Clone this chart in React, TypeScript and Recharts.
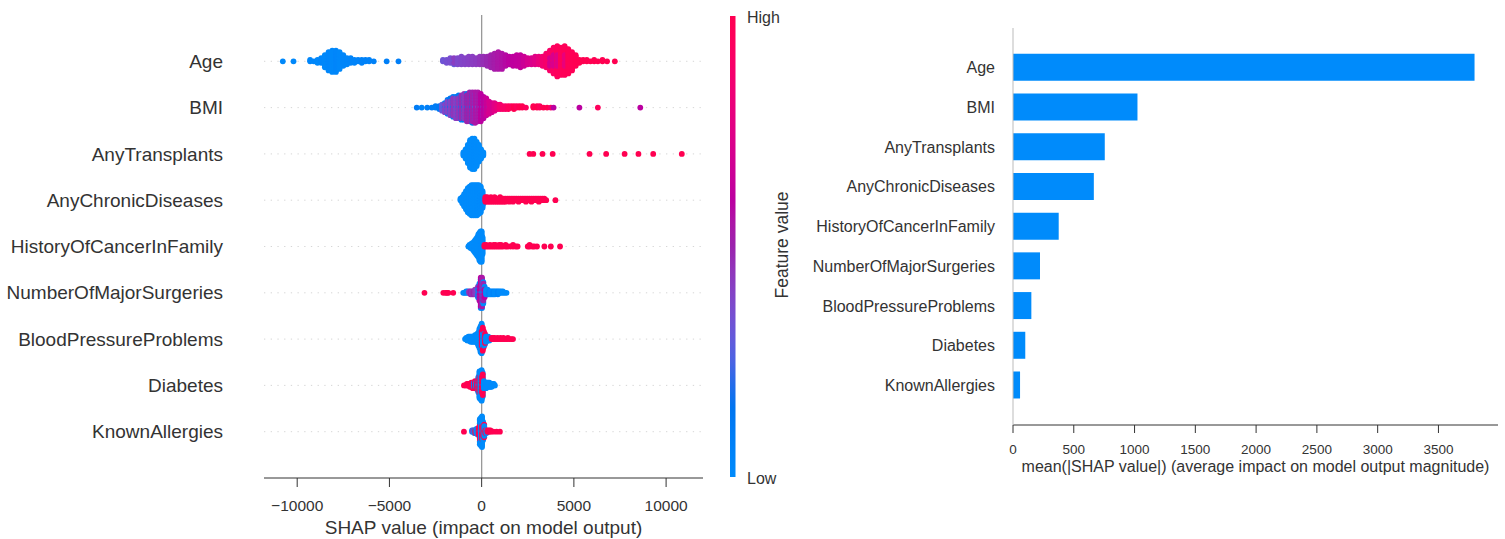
import React from 'react';
import { ScatterChart, Scatter, XAxis, YAxis, ReferenceLine, BarChart, Bar } from 'recharts';

// feature order, top to bottom
const features = [
  'Age',
  'BMI',
  'AnyTransplants',
  'AnyChronicDiseases',
  'HistoryOfCancerInFamily',
  'NumberOfMajorSurgeries',
  'BloodPressureProblems',
  'Diabetes',
  'KnownAllergies',
];

// mean(|SHAP value|) per feature, same order
const meanAbsShap = [3797, 1024, 755, 665, 376, 222, 151, 101, 58];

const shapTicks = [-10000, -5000, 0, 5000, 10000];
const meanTicks = [0, 500, 1000, 1500, 2000, 2500, 3000, 3500];

// beeswarm readings: [shap value, number of dots at that value, feature value 0 = low .. 1 = high]
type Entry = [number, number, number];

const ageShap: Entry[] = [
  [-10780, 1, 0.02], [-10200, 1, 0.02], [-9300, 2, 0.03], [-9100, 1, 0.03], [-8900, 3, 0.02], [-8700, 4, 0.03],
  [-8500, 9, 0.02], [-8300, 13, 0.03], [-8100, 15, 0.02], [-7900, 15, 0.03], [-7700, 12, 0.02], [-7500, 8, 0.04],
  [-7300, 5, 0.04], [-7100, 4, 0.05], [-6900, 3, 0.05], [-6700, 2, 0.05], [-6500, 3, 0.06], [-6300, 2, 0.06],
  [-6100, 2, 0.06], [-5850, 1, 0.07], [-5150, 1, 0.08], [-4510, 1, 0.08],
  [-2100, 2, 0.33], [-1900, 3, 0.35], [-1700, 4, 0.36], [-1500, 3, 0.3], [-1500, 2, 0.42], [-1300, 5, 0.38],
  [-1100, 6, 0.39], [-900, 5, 0.4], [-700, 6, 0.41], [-500, 6, 0.42], [-300, 5, 0.43], [-100, 6, 0.45],
  [100, 6, 0.47], [300, 7, 0.49], [500, 9, 0.51], [700, 11, 0.53], [900, 12, 0.55], [1100, 11, 0.56],
  [1300, 8, 0.58], [1500, 6, 0.6], [1700, 7, 0.61], [1900, 8, 0.62], [2100, 9, 0.63], [2300, 7, 0.66],
  [2500, 5, 0.7], [2700, 5, 0.72], [2900, 6, 0.75], [3100, 6, 0.8], [3300, 7, 0.85], [3500, 10, 0.88],
  [3700, 11, 0.9], [3700, 3, 0.7], [3900, 14, 0.93], [3900, 4, 0.72], [4100, 17, 0.95], [4100, 4, 0.75],
  [4300, 19, 0.96], [4500, 16, 0.97], [4500, 4, 0.8], [4700, 17, 0.98], [4900, 13, 0.98], [5100, 8, 0.99],
  [5300, 3, 1], [5500, 2, 1], [5700, 2, 1], [5900, 1, 1], [6100, 2, 1], [6300, 1, 1], [6550, 2, 1],
  [6800, 1, 1], [7220, 1, 1],
];

const bmiShap: Entry[] = [
  [-3520, 1, 0.1], [-3250, 1, 0.05], [-2950, 1, 0.08], [-2700, 1, 0.1], [-2500, 2, 0.1], [-2300, 3, 0.12],
  [-2150, 5, 0.3], [-2000, 4, 0.1], [-2000, 3, 0.4], [-1850, 6, 0.1], [-1850, 4, 0.4], [-1700, 7, 0.15],
  [-1700, 5, 0.4], [-1550, 8, 0.1], [-1550, 6, 0.45], [-1400, 8, 0.1], [-1400, 7, 0.42], [-1250, 9, 0.12],
  [-1250, 7, 0.45], [-1100, 9, 0.1], [-1100, 8, 0.48], [-950, 9, 0.15], [-950, 9, 0.45], [-800, 10, 0.1],
  [-800, 9, 0.5], [-650, 10, 0.2], [-650, 10, 0.5], [-500, 11, 0.15], [-500, 10, 0.52], [-350, 10, 0.25],
  [-350, 11, 0.55], [-200, 10, 0.3], [-200, 10, 0.55], [-50, 9, 0.35], [-50, 10, 0.6], [100, 7, 0.4],
  [100, 8, 0.6], [250, 6, 0.5], [250, 6, 0.65], [400, 4, 0.55], [400, 5, 0.7], [550, 7, 0.7], [700, 6, 0.75],
  [850, 4, 0.8], [1000, 4, 0.85], [1150, 3, 0.9], [1300, 3, 0.9], [1450, 3, 0.95], [1600, 2, 0.95],
  [1750, 3, 1], [1900, 2, 0.95], [2050, 2, 1], [2200, 2, 1], [2400, 1, 0.95], [2800, 2, 1], [3000, 2, 1],
  [3150, 2, 0.95], [3350, 1, 1], [3550, 1, 1], [3750, 1, 0.9], [3900, 1, 0.6], [5300, 1, 0.6],
  [6300, 1, 0.95], [8600, 1, 0.6],
];

const transplantShap: Entry[] = [
  [-990, 3, 0], [-870, 7, 0], [-750, 13, 0], [-630, 19, 0], [-510, 21, 0], [-390, 21, 0], [-270, 17, 0],
  [-150, 12, 0], [-30, 7, 0], [90, 3, 0],
  [2600, 1, 1], [2800, 1, 1], [3300, 1, 1], [3850, 1, 1], [5850, 1, 1], [6750, 1, 1], [7750, 1, 1],
  [8500, 1, 1], [9300, 1, 1], [10850, 1, 1],
];

const chronicShap: Entry[] = [
  [-1150, 2, 0], [-1050, 5, 0], [-950, 9, 0], [-850, 13, 0], [-750, 17, 0], [-650, 19, 0], [-550, 21, 0],
  [-450, 21, 0], [-350, 21, 0], [-250, 21, 0], [-150, 20, 0], [-50, 18, 0], [50, 12, 0], [100, 5, 0],
  [200, 4, 1], [300, 4, 1], [400, 3, 1], [500, 4, 1], [600, 3, 1], [700, 4, 1], [800, 3, 1], [900, 3, 1],
  [1000, 4, 1], [1100, 3, 1], [1200, 3, 1], [1300, 3, 1], [1400, 2, 1], [1500, 3, 1], [1600, 2, 1],
  [1700, 3, 1], [1800, 2, 1], [1900, 2, 1], [2000, 3, 1], [2100, 2, 1], [2200, 2, 1], [2300, 2, 1],
  [2400, 3, 1], [2500, 2, 1], [2600, 2, 1], [2700, 3, 1], [2800, 2, 1], [2900, 2, 1], [3000, 2, 1],
  [3100, 3, 1], [3200, 2, 1], [3300, 2, 1], [3400, 2, 1], [3500, 1, 1], [4000, 1, 1],
];

const cancerShap: Entry[] = [
  [-720, 1, 0], [-660, 2, 0], [-600, 3, 0], [-540, 4, 0], [-480, 5, 0], [-420, 7, 0], [-360, 9, 0],
  [-300, 11, 0], [-240, 13, 0], [-180, 16, 0], [-120, 19, 0], [-60, 21, 0], [0, 21, 0], [50, 12, 0],
  [150, 2, 1], [250, 2, 1], [350, 1, 1], [450, 2, 1], [550, 1, 1], [650, 2, 1], [750, 2, 1], [850, 1, 1],
  [950, 2, 1], [1050, 2, 1], [1150, 1, 1], [1300, 2, 1], [1400, 1, 1], [1550, 1, 1], [1700, 2, 1],
  [1850, 1, 1], [1950, 1, 1], [2500, 1, 1], [2600, 2, 1], [2750, 1, 1], [2850, 1, 1], [3000, 1, 1],
  [3400, 1, 1], [3750, 1, 1], [4250, 1, 1],
];

const surgeryShap: Entry[] = [
  [-3100, 1, 1], [-2080, 1, 1], [-1950, 1, 1], [-1880, 1, 1], [-1800, 1, 1], [-1540, 1, 1],
  [-1000, 1, 0.05], [-920, 1, 0], [-840, 2, 0.05], [-760, 2, 0],
  [-680, 2, 0.45], [-600, 3, 0.5], [-520, 3, 0.45], [-440, 3, 0.5], [-360, 4, 0.45], [-280, 4, 0.4],
  [-200, 5, 0.45], [-200, 3, 0.05], [-120, 7, 0], [-120, 5, 0.6], [-50, 11, 0], [-50, 10, 0.6],
  [20, 11, 0.05], [20, 10, 0.55], [90, 9, 0], [90, 6, 0.5], [160, 5, 0.05], [160, 3, 0.6],
  [240, 4, 0], [320, 4, 0], [400, 3, 0.05], [480, 3, 0], [560, 3, 0], [640, 3, 0.05], [720, 3, 0],
  [800, 2, 0], [880, 3, 0.05], [960, 2, 0], [1050, 2, 0], [1150, 2, 0], [1250, 1, 0], [1350, 1, 0],
];

const pressureShap: Entry[] = [
  [-900, 1, 0], [-840, 2, 0], [-780, 3, 0], [-720, 4, 0], [-660, 4, 0], [-600, 5, 0], [-540, 5, 0],
  [-480, 5, 0], [-420, 5, 0], [-360, 6, 0], [-300, 6, 0], [-240, 8, 0], [-180, 11, 0], [-120, 16, 0],
  [-60, 21, 0], [0, 18, 0], [0, 6, 1], [60, 14, 1], [60, 5, 0], [120, 8, 1], [120, 5, 0], [180, 5, 0],
  [180, 4, 1], [240, 5, 0], [300, 4, 0], [360, 4, 0], [420, 3, 0], [480, 2, 0],
  [540, 2, 1], [620, 2, 1], [700, 2, 1], [780, 1, 1], [860, 2, 1], [940, 1, 1], [1020, 2, 1],
  [1100, 1, 1], [1180, 2, 1], [1260, 1, 1], [1340, 1, 1], [1420, 2, 1], [1520, 1, 1], [1620, 1, 1],
  [1700, 1, 1],
];

const diabetesShap: Entry[] = [
  [-960, 1, 1], [-880, 1, 1], [-800, 2, 1], [-720, 2, 1], [-640, 3, 1], [-560, 4, 1], [-480, 5, 1],
  [-420, 4, 0], [-360, 6, 1], [-300, 4, 0], [-240, 7, 1], [-180, 8, 0], [-180, 4, 1], [-120, 14, 0],
  [-120, 6, 1], [-60, 21, 0], [0, 17, 0], [0, 6, 1], [60, 10, 0], [60, 8, 1], [120, 6, 0], [180, 5, 0],
  [240, 5, 0], [300, 4, 0], [360, 4, 0], [420, 4, 0], [480, 3, 0], [540, 3, 0], [600, 2, 0],
  [660, 2, 0], [720, 1, 0],
];

const allergyShap: Entry[] = [
  [-960, 1, 1], [-520, 2, 0], [-460, 2, 0.45], [-400, 3, 0], [-340, 3, 1], [-280, 4, 0], [-220, 5, 0],
  [-160, 6, 1], [-100, 14, 0], [-100, 5, 1], [-40, 21, 0], [20, 18, 0], [20, 5, 1], [80, 10, 0],
  [80, 4, 1], [140, 6, 1], [140, 4, 0], [200, 3, 1], [260, 3, 0], [320, 2, 1], [400, 2, 1], [480, 2, 1],
  [630, 1, 1], [810, 1, 1], [990, 1, 1],
];

const rows = [
  ageShap, bmiShap, transplantShap, chronicShap, cancerShap,
  surgeryShap, pressureShap, diabetesShap, allergyShap,
];

// shap's red_blue map, built in Lch space
const colour = (v: number) => {
  const l = v < 0.5 ? 54 - 28 * v : 40 + 28 * (v - 0.5);
  const c = 70 + 20 * v;
  const h = 4.6588 + v * (0.35470565 + 2 * Math.PI - 4.6588);
  const a = c * Math.cos(h);
  const b = c * Math.sin(h);
  const fy = (l + 16) / 116;
  const fx = fy + a / 500;
  const fz = fy - b / 200;
  const inv = (t: number) => (t ** 3 > 216 / 24389 ? t ** 3 : (116 * t - 16) / (24389 / 27));
  const X = 0.95047 * inv(fx);
  const Y = inv(fy);
  const Z = 1.08883 * inv(fz);
  const lin = [
    3.2404542 * X - 1.5371385 * Y - 0.4985314 * Z,
    -0.969266 * X + 1.8760108 * Y + 0.041556 * Z,
    0.0556434 * X - 0.2040259 * Y + 1.0572252 * Z,
  ];
  const hex = lin.map((u) => {
    const s = u <= 0.0031308 ? 12.92 * u : 1.055 * Math.pow(Math.max(u, 0), 1 / 2.4) - 0.055;
    const n = Math.round(Math.min(1, Math.max(0, s)) * 255);
    return n.toString(16).padStart(2, '0');
  });
  return '#' + hex.join('');
};

interface Dot { x: number; y: number; fill: string }

// same binning as shap's beeswarm: 100 bins, stack alternately up and down
function swarm(entries: Entry[], row: number): Dot[] {
  const pts: { x: number; c: number; key: number; bin: number }[] = [];
  entries.forEach(([x, n, c], e) => {
    for (let k = 0; k < n; k++) pts.push({ x, c, key: Math.floor(k / 2) * 1000 + e * 2 + (k % 2), bin: 0 });
  });
  const lo = Math.min(...pts.map((p) => p.x));
  const hi = Math.max(...pts.map((p) => p.x));
  pts.forEach((p) => { p.bin = Math.round((100 * (p.x - lo)) / (hi - lo + 1e-8)); });
  const order = pts.map((_, i) => i).sort((a, b) => pts[a].bin - pts[b].bin || pts[a].key - pts[b].key);
  const ys = new Array(pts.length).fill(0);
  let layer = 0;
  let last = -1;
  for (const i of order) {
    if (pts[i].bin !== last) layer = 0;
    ys[i] = Math.ceil(layer / 2) * ((layer % 2) * 2 - 1);
    layer++;
    last = pts[i].bin;
  }
  const s = (0.9 * 0.4) / (Math.max(...ys) + 1);
  return pts.map((p, i) => ({ x: p.x, y: row + ys[i] * s, fill: colour(p.c) }));
}

const dots: Dot[] = rows.flatMap((r, i) => swarm(r, features.length - 1 - i));

const barData = features.map((name, i) => ({ name, value: meanAbsShap[i] }));

const font = '"Liberation Sans", Arial, Helvetica, sans-serif';
const minus = (v: number) => (v < 0 ? `\u2212${-v}` : `${v}`);

const LeftTick = (props: any) => (
  <text x={223} y={props.y} dy="0.35em" textAnchor="end" fontSize={19} fill="#333">
    {features[features.length - 1 - props.payload.value]}
  </text>
);

const RightTick = (props: any) => (
  <text x={195} y={props.y} dy="0.35em" textAnchor="end" fontSize={16} fill="#333">
    {props.payload.value}
  </text>
);

const gradStops = Array.from({ length: 21 }, (_, i) => i / 20);

const swarmMargin = { top: 15, right: 17, bottom: 0, left: 0 };
const swarmX = { type: 'number' as const, dataKey: 'x', domain: [-11800, 12000], ticks: shapTicks, allowDataOverflow: true, height: 61 };
const swarmY = { type: 'number' as const, dataKey: 'y', domain: [-1, 9], ticks: [0, 1, 2, 3, 4, 5, 6, 7, 8], allowDataOverflow: true, width: 264 };

export default function App() {
  return (
    <div style={{ position: 'absolute', left: 0, top: 0, width: 1505, height: 539, background: '#fff', fontFamily: font }}>
      {/* guide lines sit under the dots */}
      <div style={{ position: 'absolute', left: 0, top: 0 }}>
        <ScatterChart width={720} height={539} margin={swarmMargin}>
          <XAxis {...swarmX} axisLine={false} tickLine={false} tick={false} />
          <YAxis {...swarmY} axisLine={false} tickLine={false} tick={false} />
          {features.map((f, i) => (
            <ReferenceLine key={f} y={i} stroke="#cccccc" strokeWidth={0.8} strokeDasharray="1.3 5.4" />
          ))}
          <ReferenceLine x={0} stroke="#999999" strokeWidth={1.3} />
        </ScatterChart>
      </div>

      <div style={{ position: 'absolute', left: 0, top: 0 }}>
        <ScatterChart width={720} height={539} margin={swarmMargin}>
          <XAxis
            {...swarmX}
            tickFormatter={minus}
            tickSize={9}
            tickMargin={13}
            stroke="#333"
            tick={{ fill: '#333', fontSize: 15.5 }}
          />
          <YAxis {...swarmY} axisLine={false} tickLine={false} tick={LeftTick} />
          <Scatter
            data={dots}
            isAnimationActive={false}
            shape={(p: any) => <circle cx={p.cx} cy={p.cy} r={2.9} fill={p.payload.fill} />}
          />
        </ScatterChart>
      </div>

      <svg width={1505} height={539} style={{ position: 'absolute', left: 0, top: 0, pointerEvents: 'none' }}>
        <defs>
          <linearGradient id="featureValue" x1="0" y1="1" x2="0" y2="0">
            {gradStops.map((v) => (
              <stop key={v} offset={v} stopColor={colour(v)} />
            ))}
          </linearGradient>
        </defs>
        <rect x={730} y={16} width={5.5} height={461} fill="url(#featureValue)" />
        <text x={747} y={17} dy="0.35em" fontSize={16} fill="#333">High</text>
        <text x={747} y={478} dy="0.35em" fontSize={16} fill="#333">Low</text>
        <text x={782} y={245} dy="0.35em" fontSize={17.5} fill="#333" textAnchor="middle" transform="rotate(-90 782 245)">
          Feature value
        </text>
        <text x={483.5} y={527} dy="0.35em" fontSize={19} fill="#333" textAnchor="middle">
          SHAP value (impact on model output)
        </text>
        <text x={1255.5} y={466} dy="0.35em" fontSize={16} fill="#333" textAnchor="middle">
          mean(|SHAP value|) (average impact on model output magnitude)
        </text>
      </svg>

      <div style={{ position: 'absolute', left: 800, top: 0 }}>
        <BarChart width={705} height={539} data={barData} layout="vertical" margin={{ top: 28, right: 7, bottom: 0, left: 0 }}>
          <XAxis
            type="number"
            domain={[0, 3990]}
            ticks={meanTicks}
            allowDataOverflow
            height={114}
            tickSize={8}
            tickMargin={11}
            stroke="#333"
            tick={{ fill: '#333', fontSize: 13.5 }}
          />
          <YAxis
            type="category"
            dataKey="name"
            width={213}
            interval={0}
            padding={{ top: 19.8, bottom: 19.8 }}
            axisLine={{ stroke: '#bbbbbb' }}
            tickLine={false}
            tick={RightTick}
          />
          <Bar dataKey="value" fill="#008bfb" barSize={27} isAnimationActive={false} />
        </BarChart>
      </div>
    </div>
  );
}
